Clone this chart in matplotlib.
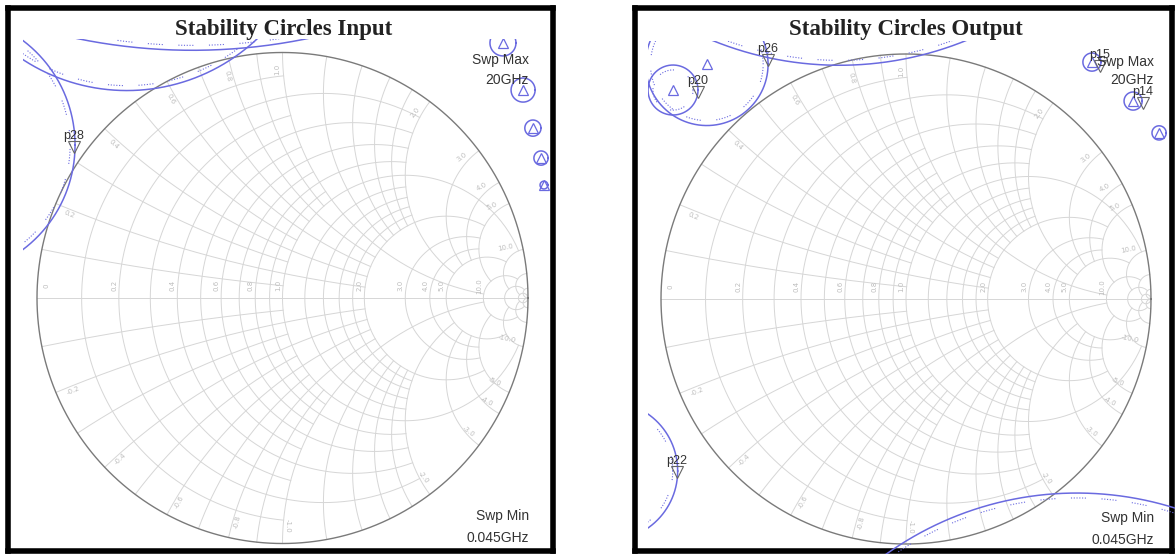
import numpy as np
import matplotlib.pyplot as plt
from matplotlib.patches import Rectangle

W, H, DPI = 1175, 554, 100

BLUE = "#6a6ae0"
GRID = "#d6d6d6"
RIM = "#7a7a7a"
LBL = "#bdbdbd"
TXT = "#333333"

# smith grid: resistance circles (r, |x| limit) and reactance arcs (x, r limit)
R_GRID = [0.1, 0.3, 0.5, 0.7, 0.9, 0.2, 0.4, 0.6, 0.8, 1.0, 1.2, 1.4, 1.6, 1.8,
          2.0, 3.0, 4.0, 5.0, 10.0, 20.0, 50.0]
R_LIMIT = [1, 1, 1, 1, 1, 2, 2, 2, 2, 10, 2, 2, 2, 2, 5, 5, 5, 10, 20, 50, 1e6]
X_GRID = R_GRID
X_LIMIT = R_LIMIT
R_LABELS = [0.2, 0.4, 0.6, 0.8, 1.0, 2.0, 3.0, 4.0, 5.0, 10.0]
X_LABELS = [0.2, 0.4, 0.6, 0.8, 1.0, 2.0, 3.0, 4.0, 5.0, 10.0]

# traces are only drawn inside this window of the reflection plane
CLIP_RE_MIN = -1.055
CLIP_IM_MAX = 1.055

# input stability circles: centre on the reflection plane and radius
IN_CENTERS = [(-0.367, 3.339), (-0.634, 1.619), (-1.378, 0.623), (0.898, 1.039),
              (0.980, 0.847), (1.020, 0.692), (1.053, 0.570), (1.065, 0.460)]
IN_RADII = [2.33, 0.774, 0.533, 0.053, 0.049, 0.033, 0.029, 0.016]
IN_MARKERS = ["p28"]
IN_MARKER_POS = [(-0.849, 0.615)]

# output stability circles
OUT_CENTERS = [(-0.272, 2.33), (-0.813, 0.958), (-0.951, 0.853), (-1.216, -0.702),
               (0.6975, -2.131), (0.759, 0.967), (0.927, 0.808), (1.033, 0.678)]
OUT_RADII = [1.376, 0.25, 0.102, 0.284, 1.339, 0.037, 0.037, 0.029]
OUT_MARKERS = ["p26", "p20", "p22", "p15", "p14"]
OUT_MARKER_POS = [(-0.563, 0.976), (-0.849, 0.845), (-0.935, -0.706),
                  (0.792, 0.951), (0.967, 0.800)]

SWP_MAX = "20GHz"
SWP_MIN = "0.045GHz"


def gamma(r, x):
    z = r + 1j * x
    return (z - 1) / (z + 1)


def draw_smith(ax):
    for r, lim in zip(R_GRID, R_LIMIT):
        a = np.arctan(lim)
        xs = np.tan(np.linspace(-a, a, 400))
        g = gamma(r, xs)
        ax.plot(g.real, g.imag, color=GRID, lw=0.7, zorder=1)
    for x, lim in zip(X_GRID, X_LIMIT):
        rs = np.tan(np.linspace(0, np.arctan(lim), 400))
        for s in (1, -1):
            g = gamma(rs, s * x)
            ax.plot(g.real, g.imag, color=GRID, lw=0.7, zorder=1)
    ax.plot([-1, 1], [0, 0], color=GRID, lw=0.7, zorder=1)
    t = np.linspace(0, 2 * np.pi, 721)
    ax.plot(np.cos(t), np.sin(t), color=RIM, lw=1.0, zorder=1.5)

    ax.text(-0.96, 0.05, "0", rotation=90, fontsize=5, color=LBL,
            ha="center", va="center")
    for r in R_LABELS:
        gx = (r - 1) / (r + 1)
        ax.text(gx - 0.018, 0.05, f"{r:.1f}", rotation=90, fontsize=5,
                color=LBL, ha="center", va="center")
    for x in X_LABELS:
        for s in (1, -1):
            g = gamma(0.0, s * x)
            th = np.angle(g)
            p = 0.93 * g + 0.02 * 1j * g
            rot = np.degrees(th)
            if rot > 90:
                rot -= 180
            elif rot < -90:
                rot += 180
            ax.text(p.real, p.imag, f"{s * x:.1f}", rotation=rot, fontsize=5,
                    color=LBL, ha="center", va="center")


def draw_stability(ax, centers, radii):
    window = Rectangle((CLIP_RE_MIN, -5), 10, CLIP_IM_MAX + 5, transform=ax.transData)
    t = np.linspace(0, 2 * np.pi, 1500)
    for (cx, cy), rad in zip(centers, radii):
        lines = ax.plot(cx + rad * np.cos(t), cy + rad * np.sin(t), color=BLUE,
                        lw=1.1, zorder=3)
        if rad > 0.08:
            ri = rad - 0.02
            lines += ax.plot(cx + ri * np.cos(t), cy + ri * np.sin(t), color=BLUE, lw=0.8,
                             ls=(0, (1, 1.5, 1, 1.5, 1, 1.5, 1, 1.5, 1, 1.5, 1, 14)),
                             zorder=3)
        lines += ax.plot(cx, cy, marker="^", ms=7, mfc="none", mec=BLUE, mew=0.9, zorder=3)
        for ln in lines:
            ln.set_clip_path(window)


def draw_markers(ax, names, pos):
    for name, (x, y) in zip(names, pos):
        ax.plot(x, y, marker="v", ms=9, mfc="none", mec="#666666", mew=0.8, zorder=4)
        ax.annotate(name, (x, y), xytext=(0, 3.5), textcoords="offset points",
                    ha="center", va="bottom", fontsize=9, color=TXT,
                    family="Liberation Sans", zorder=4)


def panel(fig, rect, center, rpx):
    x0, y0, x1, y1 = rect
    ax = fig.add_axes([x0 / W, 1 - y1 / H, (x1 - x0) / W, (y1 - y0) / H])
    cx, cy = center
    ax.set_xlim((x0 - cx) / rpx, (x1 - cx) / rpx)
    ax.set_ylim((cy - y1) / rpx, (cy - y0) / rpx)
    ax.set_xticks([])
    ax.set_yticks([])
    for sp in ax.spines.values():
        sp.set_linewidth(4.0)
        sp.set_color("black")
    return ax


def ftext(fig, px, py, s, **kw):
    fig.text(px / W, 1 - py / H, s, **kw)


fig = plt.figure(figsize=(W / DPI, H / DPI), dpi=DPI)

ax1 = panel(fig, (8, 8, 553, 551), (282.5, 298), 245.5)
draw_smith(ax1)
draw_stability(ax1, IN_CENTERS, IN_RADII)
draw_markers(ax1, IN_MARKERS, IN_MARKER_POS)

ax2 = panel(fig, (635, 8, 1172, 551), (906, 299), 245)
draw_smith(ax2)
draw_stability(ax2, OUT_CENTERS, OUT_RADII)
draw_markers(ax2, OUT_MARKERS, OUT_MARKER_POS)

title_kw = dict(ha="center", va="center", fontsize=16.5, fontweight="bold",
                family="Liberation Serif", color="#222222")
ftext(fig, 284, 30, "Stability Circles Input", **title_kw)
ftext(fig, 906, 30, "Stability Circles Output", **title_kw)

swp_kw = dict(ha="right", va="center", fontsize=10, color=TXT, family="Liberation Sans")
for xr, ys in ((529, (60, 80, 516, 538)), (1154, (62, 80, 518, 540))):
    ftext(fig, xr, ys[0], "Swp Max", **swp_kw)
    ftext(fig, xr, ys[1], SWP_MAX, **swp_kw)
    ftext(fig, xr, ys[2], "Swp Min", **swp_kw)
    ftext(fig, xr, ys[3], SWP_MIN, **swp_kw)

fig.savefig("out.png", dpi=DPI)
